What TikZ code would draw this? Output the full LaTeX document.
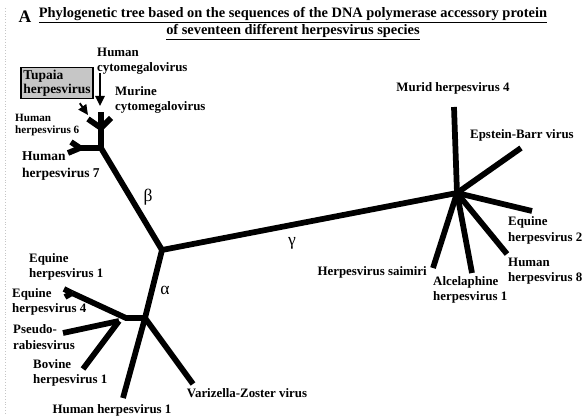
\documentclass[tikz,border=0pt]{standalone}
\usepackage{fontspec}
\setmainfont{Liberation Serif}
\usetikzlibrary{positioning,arrows.meta}

\tikzset{
  branch/.style={line width=4.9pt},
  lbl/.style={font=\bfseries\fontsize{11}{13}\selectfont, align=left, inner sep=0pt},
  greek/.style={font=\fontsize{15}{15}\selectfont, inner sep=0pt},
  pointer/.style={line width=1.6pt, -{Triangle[length=3mm,width=2.8mm]}}
}

\begin{document}
\begin{tikzpicture}[x=0.3mm, y=-0.3mm]
  \useasboundingbox (0,0) rectangle (585,420);
  % scan margin
  \draw[gray!45, line width=0.4pt, dotted] (5,8) -- (5,415);

 %title
  \node[font=\bfseries\fontsize{15}{15}\selectfont, inner sep=0pt] (A) at (25,17) {A};
  \node[font=\bfseries\fontsize{12.3}{14.5}\selectfont, align=center, inner sep=0pt] (title) at (293,24)
    {\underline{Phylogenetic tree based on the sequences of the DNA polymerase accessory protein}\\
     \underline{of seventeen different herpesvirus species}};

 %tree points
  \coordinate (C) at (162,250);
  \coordinate (B) at (101,148);
  \coordinate (Bf) at (101,128);
  \coordinate (B7) at (80,148);
  \coordinate (Al) at (145,318);
  \coordinate (Al2) at (126,318);
  \coordinate (Al3) at (119,321);
  \coordinate (Ef) at (72,293);
  \coordinate (G) at (457,193);

 %beta
  \draw[branch] (C) -- (B) -- (Bf);
  \foreach \name/\x/\y in {hcmv/101/112, tup/88/119, mcmv/111/118} {
    \coordinate (\name) at (\x,\y);
    \draw[branch] (Bf) -- (\name);
  }
  \draw[branch] (B) -- (B7);
  \foreach \name/\x/\y in {hhv7/68/153, hhv6/71/142} {
    \coordinate (\name) at (\x,\y);
    \draw[branch] (B7) -- (\name);
  }

 %alpha
  \draw[branch] (C) -- (Al) -- (Al2) -- (Ef);
  \foreach \name/\x/\y in {ehvA/64/289, ehvB/65/297} {
    \coordinate (\name) at (\x,\y);
    \draw[branch] (Ef) -- (\name);
  }
  \foreach \name/\x/\y in {prv/63/333, bhv1/83/369} {
    \coordinate (\name) at (\x,\y);
    \draw[branch] (Al3) -- (\name);
  }
  \foreach \name/\x/\y in {hhv1/123/398, vzv/193/384} {
    \coordinate (\name) at (\x,\y);
    \draw[branch] (Al) -- (\name);
  }

 %gamma
  \draw[branch] (C) -- (G);
  \foreach \name/\x/\y in {mhv4/454/107, ebv/521/148, ehv2/532/211, hhv8/507/254, ahv1/472/273, hvs/433/268} {
    \coordinate (\name) at (\x,\y);
    \draw[branch] (G) -- (\name);
  }

 %greek labels
  \node[greek] (beta) at (148,197) {β};
  \node[greek] (alpha) at (165,290) {α};
  \node[greek] (gamma) at (292,243) {γ};

 %labels beta
  \node[draw, line width=1.3pt, fill=gray!45, inner sep=2pt,
        font=\bfseries\fontsize{11.5}{12}\selectfont, align=left] (tupL) at (57,83) {Tupaia\\herpesvirus};
  \node[lbl, anchor=west] (hcmvL) at (97,61.5) {Human\\cytomegalovirus};
  \node[lbl, anchor=west] (mcmvL) at (115,100) {Murine\\cytomegalovirus};
  \node[lbl, anchor=west, font=\bfseries\fontsize{9.5}{10.5}\selectfont] (hhv6L) at (15,125) {Human\\herpesvirus 6};
  \node[lbl, anchor=west, font=\bfseries\fontsize{11.5}{15}\selectfont] (hhv7L) at (22,166) {Human\\herpesvirus 7};
  \coordinate (hcmvT) at (100,106);
  \coordinate (tupT) at (88,115);
  \draw[pointer] (hcmvL.west -| hcmvT) ++(0,12) -- (hcmvT);
  \draw[pointer] (tupL.south east) ++(-14,4) -- (tupT);

 %labels alpha
  \node[lbl, anchor=west] (ehv1L) at (29,267) {Equine\\herpesvirus 1};
  \node[lbl, anchor=west] (ehv4L) at (12,302) {Equine\\herpesvirus 4};
  \node[lbl, anchor=west] (prvL) at (13,337) {Pseudo-\\rabiesvirus};
  \node[lbl, anchor=west] (bhv1L) at (33,373) {Bovine\\herpesvirus 1};
  \node[lbl] (hhv1L) at (112,410) {Human herpesvirus 1};
  \node[lbl] (vzvL) at (247,393) {Varizella-Zoster virus};

 %labels gamma
  \node[lbl] (mhv4L) at (453,88) {Murid herpesvirus 4};
  \node[lbl, anchor=west] (ebvL) at (470,135) {Epstein-Barr virus};
  \node[lbl, anchor=west] (ehv2L) at (508,230.5) {Equine\\herpesvirus 2};
  \node[lbl, anchor=west] (hhv8L) at (508,271.5) {Human\\herpesvirus 8};
  \node[lbl, anchor=west] (ahv1L) at (433,290) {Alcelaphine\\herpesvirus 1};
  \node[lbl, anchor=east] (hvsL) at (427,272) {Herpesvirus saimiri};
\end{tikzpicture}
\end{document}
